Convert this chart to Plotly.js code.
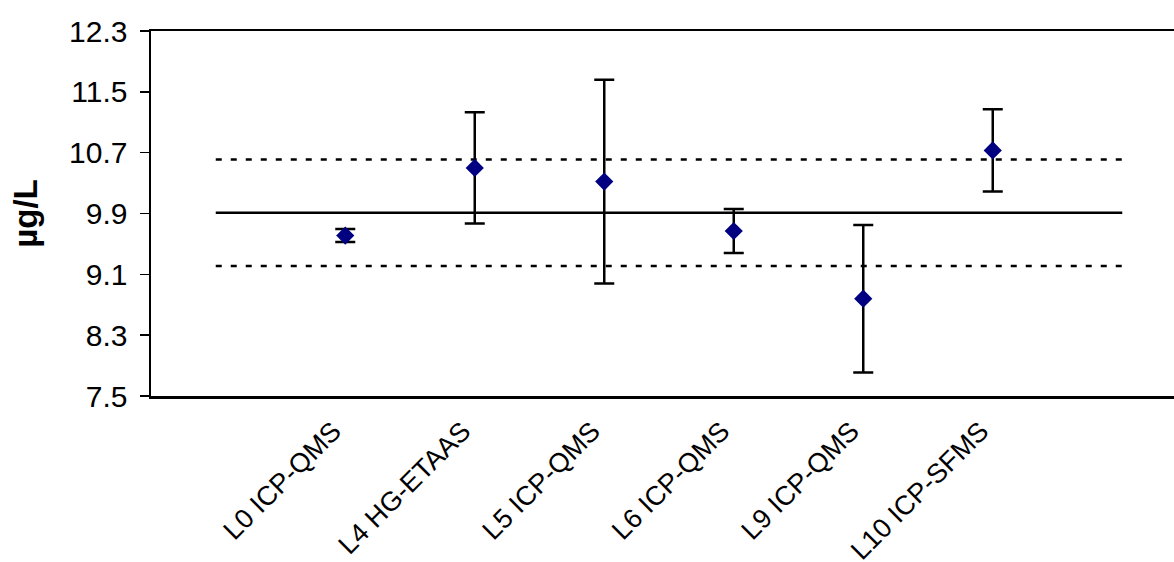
<!DOCTYPE html>
<html>
<head>
<meta charset="utf-8">
<script src="https://cdn.plot.ly/plotly-3.0.1.min.js"></script>
<style>
  html, body { margin: 0; padding: 0; overflow: hidden; background: #fff; }
  #chart { width: 1190px; height: 562px; }
</style>
</head>
<body>
<div id="chart"></div>
<script>
// Laboratory results (µg/L) with expanded uncertainties
const categories = ['L0 ICP-QMS', 'L4 HG-ETAAS', 'L5 ICP-QMS', 'L6 ICP-QMS', 'L9 ICP-QMS', 'L10 ICP-SFMS'];
const values = [9.61, 10.50, 10.32, 9.67, 8.78, 10.73];
const uncertainties = [0.085, 0.73, 1.34, 0.29, 0.97, 0.54];

// Assigned value and its tolerance band
const assignedValue = 9.91;
const tolerance = 0.70;

// Y axis ticks
const yTicks = [7.5, 8.3, 9.1, 9.9, 10.7, 11.5, 12.3];
const yTickText = ['7.5', '8.3', '9.1', '9.9', '10.7', '11.5', '12.3'];

// Category slots: an empty slot on each side of the labelled results
const slots = [''].concat(categories, ['']);
const slotX = slots.map((_, i) => i);
const resultX = categories.map((_, i) => i + 1);

const font = 'Liberation Sans, Arial, sans-serif';

const refLine = (y, dash) => ({
  type: 'scatter', mode: 'lines',
  x: slotX, y: slotX.map(() => y),
  line: { color: '#000', width: 2.5, dash: dash },
  hoverinfo: 'skip', showlegend: false
});

const traces = [
  refLine(assignedValue + tolerance, '6px,9px'),
  refLine(assignedValue, 'solid'),
  refLine(assignedValue - tolerance, '6px,9px'),
  {
    type: 'scatter', mode: 'markers',
    x: resultX, y: values,
    marker: { symbol: 'diamond', size: 14, color: '#000080', line: { width: 0 } },
    error_y: { type: 'data', array: uncertainties, visible: true, color: '#000', thickness: 2.5, width: 10 },
    showlegend: false
  }
];

const layout = {
  width: 1190, height: 562,
  margin: { l: 151, r: 3, t: 31, b: 166 },
  paper_bgcolor: '#fff', plot_bgcolor: '#fff',
  font: { family: font, color: '#000', size: 27 },
  showlegend: false,
  xaxis: {
    range: [-0.5, 7.5],
    tickvals: resultX, ticktext: categories,
    tickangle: -45, ticks: '',
    tickfont: { family: font, size: 27, color: '#000' },
    showgrid: false, zeroline: false,
    showline: true, linecolor: '#000', linewidth: 2.5, mirror: true,
    automargin: false, ticklabelstandoff: 6, ticklabelshift: -12
  },
  yaxis: {
    range: [7.5, 12.3],
    tickvals: yTicks, ticktext: yTickText,
    ticks: 'outside', ticklen: 9, tickwidth: 1.5, tickcolor: '#000',
    tickfont: { family: font, size: 30, color: '#000' },
    showgrid: false, zeroline: false,
    showline: true, linecolor: '#000', linewidth: 2.5, mirror: true,
    automargin: false, ticklabelstandoff: 6,
    title: { text: '<b>µg/L</b>', font: { family: font, size: 33, color: '#000' }, standoff: 22 }
  }
};

Plotly.newPlot('chart', traces, layout, { staticPlot: true, displayModeBar: false });
</script>
</body>
</html>
